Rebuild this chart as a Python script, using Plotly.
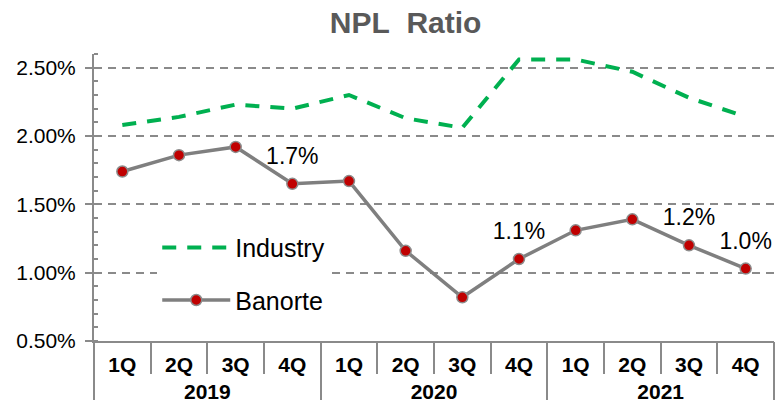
import plotly.graph_objects as go

years = ["2019"] * 4 + ["2020"] * 4 + ["2021"] * 4
quarters = ["1Q", "2Q", "3Q", "4Q"] * 3
industry = [2.08, 2.14, 2.23, 2.20, 2.30, 2.13, 2.06, 2.56, 2.56, 2.47, 2.28, 2.14]
banorte = [1.74, 1.86, 1.92, 1.65, 1.67, 1.16, 0.82, 1.10, 1.31, 1.39, 1.20, 1.03]
labels = ["", "", "", "1.7%", "", "", "", "1.1%", "", "", "1.2%", "1.0%"]
y_ticks = [0.5, 1.0, 1.5, 2.0, 2.5]
y_ticktext = ["0.50%", "1.00%", "1.50%", "2.00%", "2.50%"]

# category keys (year + quarter) and year groups derived from the arrays above
keys = [f"{y} {q}" for y, q in zip(years, quarters)]
year_names = sorted(set(years))
year_idx = {y: [i for i, v in enumerate(years) if v == y] for y in year_names}
year_centers = [sum(year_idx[y]) / len(year_idx[y]) for y in year_names]
year_bounds = [year_idx[year_names[0]][0] - 0.5] + [year_idx[y][-1] + 0.5 for y in year_names]
n = len(keys)

FONT = "Arial, Liberation Sans, sans-serif"
GRAY = "#8a8a8a"

fig = go.Figure()
fig.add_trace(go.Scatter(
    x=keys, y=industry, name="Industry", mode="lines",
    line=dict(color="#00B050", width=4, dash="14px,11px"),
    legendgroup="a", hoverinfo="skip"))
fig.add_trace(go.Scatter(
    x=keys, y=banorte, name="Banorte", mode="lines+markers",
    line=dict(color="#7f7f7f", width=3.5),
    marker=dict(color="#C00000", size=11, line=dict(color="#8c8c8c", width=1.5)),
    legendgroup="b", hoverinfo="skip"))
fig.add_trace(go.Scatter(
    x=keys, y=banorte, mode="markers+text", text=labels,
    textposition="top center", showlegend=False, hoverinfo="skip",
    marker=dict(size=21, color="rgba(0,0,0,0)"),
    textfont=dict(family=FONT, size=23, color="#000000")))
# empty carrier trace so the year axis (x2) is drawn
fig.add_trace(go.Scatter(
    x=year_centers, y=[None] * len(year_centers), xaxis="x2", yaxis="y",
    mode="markers", showlegend=False, hoverinfo="skip"))

fig.update_layout(
    width=780, height=400,
    margin=dict(l=94, r=6, t=54, b=59),
    paper_bgcolor="white", plot_bgcolor="white",
    title=dict(text="<b>NPL\u00a0 Ratio</b>", x=0.52, xanchor="center",
               y=0.945, yanchor="middle",
               font=dict(family=FONT, size=30, color="#595959")),
    showlegend=True,
    legend=dict(x=0.093, y=0.405, xanchor="left", yanchor="top",
                bgcolor="white", itemwidth=68, tracegroupgap=17,
                font=dict(family=FONT, size=25, color="#000000")),
    font=dict(family=FONT, color="#000000"),
    xaxis=dict(
        type="category", categoryorder="array", categoryarray=keys,
        range=[-0.5, n - 0.5], tickvals=keys, ticktext=quarters,
        tickson="boundaries", showline=True, linecolor=GRAY, linewidth=2,
        showgrid=False, ticks="outside", ticklen=31, tickcolor=GRAY, tickwidth=2,
        ticklabelstandoff=4,
        tickfont=dict(family=FONT, size=21, color="#000000", weight="bold"),
        automargin=False),
    xaxis2=dict(
        overlaying="x", anchor="y", side="bottom", type="linear",
        range=[-0.5, n - 0.5], tickvals=year_centers, ticktext=year_names,
        ticks="", showline=False, showgrid=False, zeroline=False,
        ticklabelstandoff=36,
        minor=dict(tickvals=year_bounds, ticks="outside", ticklen=62,
                   tickcolor=GRAY, tickwidth=2, showgrid=False),
        tickfont=dict(family=FONT, size=21, color="#000000", weight="bold"),
        automargin=False),
    yaxis=dict(
        range=[0.5, 2.6], tickvals=y_ticks, ticktext=y_ticktext,
        showline=True, linecolor=GRAY, linewidth=2,
        ticks="outside", ticklen=7, tickcolor=GRAY, tickwidth=2,
        ticklabelstandoff=5,
        showgrid=True, gridcolor=GRAY, gridwidth=1.5, griddash="8px,6px",
        minor=dict(dtick=0.1, ticks="inside", ticklen=4, tickcolor=GRAY,
                   tickwidth=1.5, showgrid=False),
        zeroline=False, tickfont=dict(family=FONT, size=21, color="#000000"),
        automargin=False),
)

fig.write_html("out.html", config={"displayModeBar": False},
               post_script="document.body.style.margin='0px';")
